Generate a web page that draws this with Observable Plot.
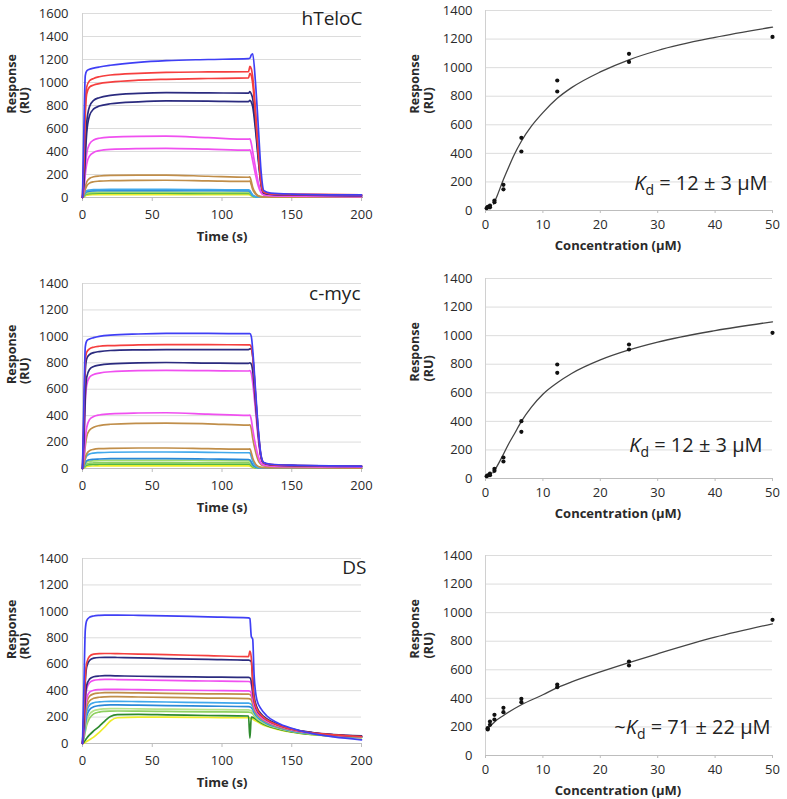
<!DOCTYPE html>
<html><head><meta charset="utf-8">
<script src="https://cdn.jsdelivr.net/npm/d3@7"></script>
<script src="https://cdn.jsdelivr.net/npm/@observablehq/plot@0.6"></script>
<style>
html,body{margin:0;padding:0;background:#fff;}
#wrap{position:relative;width:787px;height:799px;overflow:hidden;background:#fff;}
.panel{position:absolute;}
</style></head><body><div id="wrap"></div>
<script>
// ---------- sensorgram data ----------
const timeFast = [0, 1, 2, 3, 5, 8, 12, 20, 40, 60, 90, 119, 120, 121, 122, 124, 126, 128, 130, 135, 150, 200];
const timeDS = [0, 1, 2, 3, 5, 8, 12, 16, 20, 25, 40, 60, 90, 119, 120, 121, 122, 123, 125, 128, 132, 140, 150, 165, 180, 200];

const hTelocColors = ["#3f3ff5","#f53f3f","#f53f3f","#2b2b7f","#2b2b7f","#f050f0","#f050f0","#c08e4a","#c08e4a","#40a8ec","#2a88d8","#a5dc6e","#52b848","#eded2a"];
const hTelocCurves = [
  [0, 600, 1060, 1100, 1115, 1125, 1135, 1150, 1175, 1190, 1200, 1208, 1212, 1240, 1250, 1000, 620, 230, 60, 38, 30, 22],
  [0, 350, 800, 960, 1015, 1035, 1050, 1065, 1080, 1088, 1092, 1094, 1140, 1120, 1050, 760, 420, 140, 45, 32, 27, 22],
  [0, 300, 720, 900, 960, 978, 990, 1003, 1020, 1028, 1035, 1040, 1080, 1060, 990, 720, 400, 130, 45, 32, 27, 22],
  [0, 150, 420, 650, 790, 845, 868, 888, 905, 912, 910, 907, 920, 900, 860, 640, 360, 120, 40, 30, 24, 18],
  [0, 120, 360, 560, 710, 770, 795, 815, 832, 840, 838, 834, 845, 830, 790, 590, 330, 110, 38, 28, 22, 16],
  [0, 90, 260, 380, 465, 500, 515, 525, 532, 533, 520, 507, 510, 470, 400, 260, 130, 50, 24, 18, 13, 9],
  [0, 70, 200, 290, 360, 392, 407, 418, 425, 427, 420, 412, 415, 380, 320, 200, 100, 40, 20, 15, 11, 8],
  [0, 40, 95, 135, 165, 180, 187, 192, 195, 195, 185, 176, 180, 140, 90, 40, 15, 8, 5, 4, 3, 2],
  [0, 30, 70, 100, 125, 137, 142, 146, 149, 150, 145, 140, 142, 110, 70, 30, 12, 7, 5, 4, 3, 2],
  [0, 20, 45, 58, 65, 68, 69, 70, 70, 70, 68, 67, 60, 40, 20, 8, 4, 3, 2, 2, 2, 2],
  [0, 15, 38, 50, 56, 58, 59, 60, 60, 60, 59, 58, 52, 35, 18, 7, 3, 2, 2, 2, 2, 2],
  [0, 10, 28, 38, 43, 45, 46, 46, 46, 46, 45, 45, 40, 28, 14, 5, 2, 2, 2, 2, 2, 2],
  [0, 8, 22, 30, 34, 36, 37, 37, 37, 37, 36, 36, 32, 22, 11, 4, 2, 2, 2, 2, 2, 2],
  [0, 5, 14, 20, 23, 24, 25, 25, 25, 25, 25, 25, 22, 15, 8, 3, 2, 2, 2, 2, 2, 2]
];

const cmycColors = ["#3f3ff5","#f53f3f","#2b2b7f","#2b2b7f","#f050f0","#f050f0","#c08e4a","#c08e4a","#40a8ec","#2a88d8","#a5dc6e","#8fd060","#52b848","#eded2a"];
const cmycCurves = [
  [0, 500, 920, 965, 980, 990, 1000, 1010, 1018, 1022, 1022, 1020, 1020, 1000, 900, 600, 300, 100, 45, 32, 25, 18],
  [0, 400, 820, 880, 905, 918, 925, 930, 935, 937, 937, 936, 936, 920, 850, 560, 280, 90, 42, 30, 24, 18],
  [0, 300, 740, 830, 862, 877, 885, 893, 898, 900, 900, 900, 905, 905, 850, 560, 280, 90, 42, 30, 24, 18],
  [0, 200, 550, 690, 750, 772, 782, 792, 800, 802, 798, 795, 800, 790, 740, 500, 250, 85, 40, 28, 22, 16],
  [0, 180, 500, 630, 690, 712, 722, 732, 740, 742, 740, 738, 740, 720, 650, 440, 220, 75, 36, 26, 20, 15],
  [0, 80, 220, 310, 370, 393, 405, 414, 420, 422, 412, 402, 404, 370, 300, 180, 90, 40, 25, 18, 14, 10],
  [0, 60, 170, 240, 290, 312, 325, 335, 342, 344, 338, 328, 330, 300, 230, 130, 60, 30, 20, 15, 12, 9],
  [0, 30, 80, 110, 135, 145, 150, 153, 155, 155, 150, 146, 148, 120, 80, 35, 15, 9, 6, 5, 4, 3],
  [0, 25, 70, 95, 110, 117, 120, 123, 125, 125, 122, 119, 118, 90, 55, 22, 9, 6, 5, 4, 3, 3],
  [0, 15, 42, 58, 66, 70, 72, 74, 75, 75, 72, 68, 65, 48, 28, 11, 5, 4, 3, 3, 2, 2],
  [0, 12, 35, 48, 55, 58, 60, 61, 62, 62, 60, 58, 55, 40, 24, 10, 4, 3, 3, 2, 2, 2],
  [0, 8, 25, 35, 40, 42, 43, 44, 44, 44, 43, 42, 40, 30, 18, 7, 3, 2, 2, 2, 2, 2],
  [0, 6, 18, 25, 29, 31, 32, 33, 33, 33, 32, 32, 30, 22, 12, 5, 2, 2, 2, 2, 2, 2],
  [0, 4, 11, 16, 18, 19, 20, 20, 20, 20, 20, 20, 18, 13, 7, 3, 2, 2, 2, 2, 2, 2]
];

const dsColors = ["#3f3ff5","#f53f3f","#2b2b7f","#2b2b7f","#f050f0","#f050f0","#c08e4a","#c08e4a","#40a8ec","#2a88d8","#b5e28a","#8fd060","#2e8b2e","#eded2a"];
const dsCurves = [
  [0, 420, 860, 930, 955, 965, 970, 972, 972, 972, 970, 966, 958, 951, 945, 810, 790, 520, 330, 262, 210, 155, 115, 75, 50, 28],
  [0, 220, 500, 610, 660, 676, 680, 681, 681, 680, 677, 672, 665, 658, 700, 650, 450, 330, 260, 215, 180, 140, 108, 80, 65, 53],
  [0, 200, 470, 580, 628, 646, 651, 652, 652, 651, 648, 643, 637, 631, 628, 620, 500, 360, 275, 225, 188, 146, 112, 83, 68, 57],
  [0, 130, 340, 440, 487, 505, 511, 513, 513, 512, 509, 506, 503, 500, 498, 470, 390, 320, 255, 212, 180, 140, 108, 81, 66, 55],
  [0, 120, 310, 410, 460, 478, 483, 485, 485, 484, 481, 477, 473, 469, 467, 445, 375, 305, 248, 208, 176, 138, 106, 80, 65, 54],
  [0, 100, 260, 340, 388, 403, 408, 410, 410, 410, 408, 405, 401, 398, 396, 380, 335, 285, 238, 200, 170, 134, 104, 79, 64, 53],
  [0, 90, 230, 310, 358, 376, 382, 385, 385, 385, 383, 380, 376, 373, 371, 358, 322, 275, 230, 195, 166, 131, 102, 78, 63, 52],
  [0, 80, 200, 275, 322, 342, 350, 353, 354, 354, 352, 349, 344, 340, 338, 328, 300, 262, 222, 189, 162, 128, 100, 76, 62, 51],
  [0, 65, 170, 240, 290, 308, 315, 318, 319, 319, 317, 314, 309, 305, 303, 296, 278, 248, 212, 183, 157, 125, 98, 75, 61, 50],
  [0, 55, 140, 205, 255, 278, 287, 291, 292, 292, 290, 287, 283, 279, 277, 272, 258, 235, 204, 177, 152, 122, 96, 74, 60, 49],
  [0, 45, 110, 165, 220, 247, 258, 262, 264, 264, 262, 260, 257, 254, 252, 248, 238, 220, 194, 169, 146, 118, 93, 72, 58, 48],
  [0, 38, 90, 140, 190, 224, 238, 243, 245, 246, 245, 243, 240, 238, 236, 233, 225, 210, 187, 164, 142, 115, 91, 70, 57, 47],
  [0, 10, 25, 40, 65, 95, 130, 170, 205, 218, 220, 217, 212, 208, 40, 200, 198, 192, 178, 157, 137, 111, 88, 68, 56, 46],
  [0, 3, 8, 15, 28, 48, 85, 125, 170, 195, 200, 199, 197, 195, 193, 190, 186, 178, 166, 148, 130, 106, 85, 66, 54, 45]
];

// ---------- binding (steady-state) data ----------
const hTelocConc = [0.2, 0.39, 0.78, 0.78, 1.56, 1.56, 3.125, 3.125, 6.25, 6.25, 12.5, 12.5, 25, 25, 50];
const hTelocResp = [16, 25, 35, 22, 70, 58, 180, 148, 509, 413, 910, 833, 1097, 1040, 1215];
const hTelocFitConc = [1.4, 2, 3, 4, 5, 6.25, 8, 10, 12.5, 15, 20, 25, 30, 40, 50];
const hTelocFitResp = [45, 100, 205, 300, 390, 485, 590, 685, 785, 860, 970, 1055, 1120, 1212, 1283];

const cmycConc = [0.2, 0.39, 0.78, 0.78, 1.56, 1.56, 3.125, 3.125, 6.25, 6.25, 12.5, 12.5, 25, 25, 50];
const cmycResp = [16, 22, 35, 23, 68, 54, 147, 119, 401, 327, 798, 740, 938, 903, 1020];
const cmycFitConc = [1.3, 2, 3, 4, 5, 6.25, 8, 10, 12.5, 15, 20, 25, 30, 40, 50];
const cmycFitResp = [40, 85, 160, 240, 310, 400, 500, 590, 670, 735, 830, 900, 955, 1035, 1097];

const dsConc = [0.39, 0.39, 0.78, 0.78, 1.56, 1.56, 3.125, 3.125, 6.25, 6.25, 12.5, 12.5, 25, 25, 50];
const dsResp = [191, 182, 238, 215, 285, 252, 334, 303, 397, 373, 497, 478, 658, 630, 950];
const dsFitConc = [0.4, 1, 1.56, 3.125, 6.25, 10, 12.5, 15, 20, 25, 30, 40, 50];
const dsFitResp = [192, 212, 235, 280, 355, 425, 475, 515, 585, 650, 712, 828, 922];

// ---------- labels & ticks ----------
const timeTicks = [0, 50, 100, 150, 200];
const concTicks = [0, 10, 20, 30, 40, 50];
const ticks1600 = [0, 200, 400, 600, 800, 1000, 1200, 1400, 1600];
const ticks1400 = [0, 200, 400, 600, 800, 1000, 1200, 1400];
const panelTitles = ["hTeloC", "c-myc", "DS"];
const kdPrefix = ["", "", "~"];
const kdRest = [" = 12 ± 3 µM", " = 12 ± 3 µM", " = 71 ± 22 µM"];
const yLabel = "Response\n(RU)";
const timeLabel = "Time (s)";
const concLabel = "Concentration (µM)";

const FONT = "'Open Sans', sans-serif";
const fmt = d => String(d);
const wrap = document.getElementById("wrap");

function place(svg, left, top, width) {
  const d = document.createElement("div");
  d.className = "panel";
  d.style.left = left + "px"; d.style.top = top + "px"; d.style.width = width + "px";
  d.appendChild(svg);
  wrap.appendChild(d);
}

function sensorPanel({times, curves, colors, yMax, yTicks, title, top, titleDx, titleDy, height}) {
  const data = [];
  for (let k = curves.length - 1; k >= 0; k--) {
    curves[k].forEach((v, i) => data.push({t: times[i], v, k, c: colors[k]}));
  }
  const svg = Plot.plot({
    width: 381, height, marginLeft: 82, marginRight: 20, marginTop: 13, marginBottom: height - 13 - (yMax === 1600 ? 184 : 185),
    style: {fontFamily: FONT, fontSize: "13px", color: "#2a2a2a", background: "#fff", overflow: "visible"},
    x: {domain: [0, 200]},
    y: {domain: [0, yMax]},
    marks: [
      Plot.gridY(yTicks, {stroke: "#dcdcdc", strokeOpacity: 1}),
      Plot.ruleX([0], {stroke: "#d0d0d0"}),
      Plot.ruleY([0], {stroke: "#bdbdbd"}),
      Plot.axisY(yTicks, {tickSize: 0, tickPadding: 14, label: null, tickFormat: fmt}),
      Plot.axisX(timeTicks, {tickSize: 4, tickPadding: 8.5, stroke: "#bdbdbd", label: null, tickFormat: fmt}),
      Plot.line(data, {x: "t", y: "v", z: "k", stroke: "c", strokeWidth: 1.7, curve: "monotone-x"}),
      Plot.text([title], {text: d => d, frameAnchor: "top-right", textAnchor: "end", lineAnchor: "middle", dx: titleDx, dy: titleDy, fontSize: 19, fill: "#222"}),
      Plot.text([yLabel], {text: d => d, frameAnchor: "left", rotate: -90, dx: -64.5, dy: 8, fontWeight: "bold", fontSize: 12.5, lineHeight: 1.1, fill: "#2a2a2a"}),
      Plot.text([timeLabel], {text: d => d, frameAnchor: "bottom", lineAnchor: "middle", dy: 39, fontWeight: "bold", fontSize: 13, fill: "#2a2a2a"})
    ]
  });
  place(svg, 0, top, 381);
}

function bindingPanel({conc, resp, fitConc, fitResp, idx, top, height, kdDx, kdDy}) {
  const pts = conc.map((c, i) => ({c, r: resp[i]}));
  const fit = fitConc.map((c, i) => ({c, r: fitResp[i]}));
  const kdFull = kdPrefix[idx] + "Kd" + kdRest[idx];
  const marginTop = top === 0 ? 10 : 13;
  const svg = Plot.plot({
    width: 384, height, marginLeft: 85, marginRight: 12, marginTop, marginBottom: height - marginTop - 200,
    style: {fontFamily: FONT, fontSize: "13px", color: "#2a2a2a", background: "#fff", overflow: "visible"},
    x: {domain: [0, 50]},
    y: {domain: [0, 1400]},
    marks: [
      Plot.gridY(ticks1400, {stroke: "#dcdcdc", strokeOpacity: 1}),
      Plot.ruleX([0], {stroke: "#d0d0d0"}),
      Plot.ruleY([0], {stroke: "#bdbdbd"}),
      Plot.axisY(ticks1400, {tickSize: 0, tickPadding: 13, label: null, tickFormat: fmt}),
      Plot.axisX(concTicks, {tickSize: 3, tickPadding: 6, stroke: "#bdbdbd", label: null, tickFormat: fmt}),
      Plot.line(fit, {x: "c", y: "r", stroke: "#444", strokeWidth: 1.3, curve: "monotone-x"}),
      Plot.dot(pts, {x: "c", y: "r", r: 2.1, fill: "#111", stroke: "none"}),
      Plot.text([kdFull], {text: d => d, frameAnchor: "bottom-right", textAnchor: "end", lineAnchor: "middle", dx: kdDx, dy: kdDy, fontSize: 20, fill: "#222"}),
      Plot.text([yLabel], {text: d => d, frameAnchor: "left", rotate: -90, dx: -64, dy: 3, fontWeight: "bold", fontSize: 12.5, lineHeight: 1.1, fill: "#2a2a2a"}),
      Plot.text([concLabel], {text: d => d, frameAnchor: "bottom", lineAnchor: "middle", dx: -11, dy: 35, fontWeight: "bold", fontSize: 13, fill: "#2a2a2a"})
    ]
  });
  d3.select(svg).selectAll("text").each(function() {
    if (this.textContent === kdFull) {
      const t = d3.select(this);
      t.text(null);
      if (kdPrefix[idx]) t.append("tspan").text(kdPrefix[idx]);
      t.append("tspan").attr("font-style", "italic").text("K");
      t.append("tspan").attr("font-size", "14").attr("dy", "5").text("d");
      t.append("tspan").attr("dy", "-5").text(kdRest[idx]);
    }
  });
  place(svg, 400, top, 384);
}

sensorPanel({times: timeFast, curves: hTelocCurves, colors: hTelocColors, yMax: 1600, yTicks: ticks1600, title: panelTitles[0], top: 0, titleDx: 1, titleDy: 5, height: 242});
sensorPanel({times: timeFast, curves: cmycCurves, colors: cmycColors, yMax: 1400, yTicks: ticks1400, title: panelTitles[1], top: 270, titleDx: -1, titleDy: 10, height: 243});
sensorPanel({times: timeDS, curves: dsCurves, colors: dsColors, yMax: 1400, yTicks: ticks1400, title: panelTitles[2], top: 545, titleDx: 5, titleDy: 9, height: 242});

bindingPanel({conc: hTelocConc, resp: hTelocResp, fitConc: hTelocFitConc, fitResp: hTelocFitResp, idx: 0, top: 0, height: 252, kdDx: -5, kdDy: -27});
bindingPanel({conc: cmycConc, resp: cmycResp, fitConc: cmycFitConc, fitResp: cmycFitResp, idx: 1, top: 265, height: 255, kdDx: -10, kdDy: -33});
bindingPanel({conc: dsConc, resp: dsResp, fitConc: dsFitConc, fitResp: dsFitResp, idx: 2, top: 542, height: 253, kdDx: -2, kdDy: -28});
</script></body></html>
